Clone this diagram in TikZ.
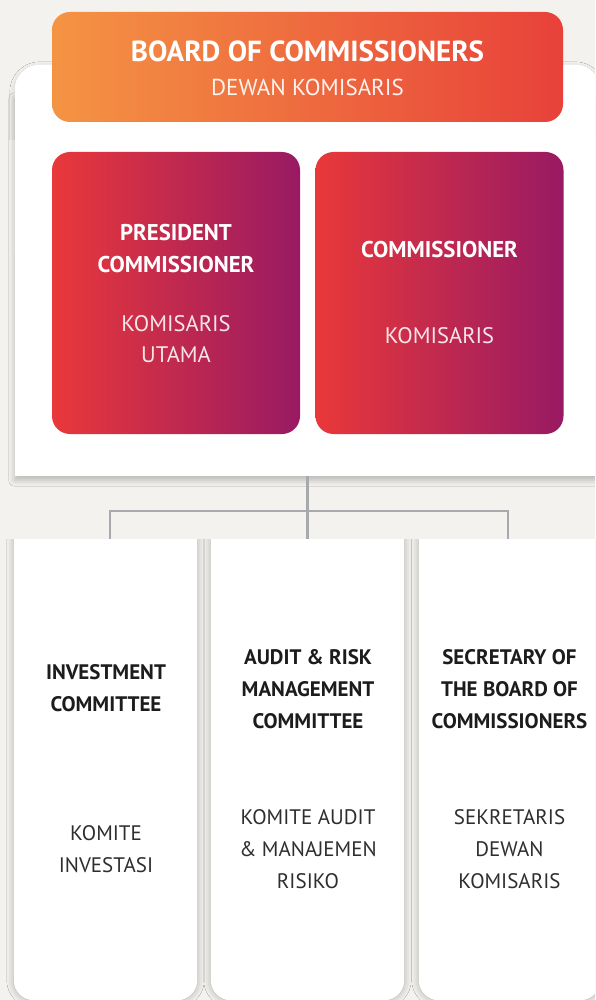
\documentclass[tikz,border=0pt]{standalone}
\usepackage{fontspec}
\setmainfont{PT Sans}
\usetikzlibrary{shadows.blur}
\definecolor{bgc}{HTML}{F3F2EE}
\definecolor{orA}{HTML}{F49443}
\definecolor{orB}{HTML}{E8413A}
\definecolor{pkA}{HTML}{E9383A}
\definecolor{pkB}{HTML}{981A63}
\definecolor{conc}{HTML}{A8A9AD}
\definecolor{darktxt}{HTML}{1C1C1C}
\definecolor{regtxt}{HTML}{2E2E2E}
\tikzset{
  area/.style={inner sep=0pt, draw=none},
  panelshadow/.style={fill=white,
    blur shadow={shadow xshift=0pt, shadow yshift=-4pt, shadow blur radius=6pt, shadow opacity=24}},
  paneltopshadow/.style={fill=white, rounded corners=25pt,
    blur shadow={shadow xshift=0pt, shadow yshift=-2pt, shadow blur radius=5pt, shadow opacity=18}},
  paneltop/.style={fill=white, rounded corners=25pt},
  topbox/.style={left color=orA, right color=orB, rounded corners=18pt, inner sep=0pt},
  pinkbox/.style={left color=pkA, right color=pkB, rounded corners=18pt, inner sep=0pt},
  comshape/.style={fill=white, rounded corners=20pt,
    blur shadow={shadow xshift=0pt, shadow yshift=0pt, shadow blur radius=7pt, shadow opacity=30}},
  conn/.style={draw=conc, line width=2.2pt},
  ttl/.style={text=white, font=\bfseries\fontsize{29}{34}\selectfont, inner sep=0pt, anchor=north},
  subttl/.style={text=white, text opacity=0.92, font=\fontsize{23}{28}\selectfont, inner sep=0pt, anchor=north},
  pkbold/.style={text=white, font=\bfseries\fontsize{22.8}{32}\selectfont, inner sep=0pt, anchor=north, align=center},
  pkreg/.style={text=white, text opacity=0.88, font=\fontsize{22.5}{31.5}\selectfont, inner sep=0pt, anchor=north, align=center},
  cbold/.style={text=darktxt, font=\bfseries\fontsize{21}{32}\selectfont, inner sep=0pt, anchor=north, align=center},
  creg/.style={text=regtxt, font=\fontsize{21}{32.3}\selectfont, inner sep=0pt, anchor=north, align=center},
}
\begin{document}
\begin{tikzpicture}[x=1pt,y=-1pt]
\useasboundingbox (0,0) rectangle (595,1000);
\clip (0,0) rectangle (595,1000);
\fill[bgc] (0,0) rectangle (595,1000);

% white panel (rounded top, square bottom)
\node[area, minimum width=585pt, minimum height=411pt] (panel) at (307.5,270.5) {};
\begin{scope}
  \clip (0,0) rectangle (600,140);
  \fill[paneltopshadow] (panel.north west) rectangle ([yshift=200pt]panel.south east);
\end{scope}
\fill[panelshadow] ([yshift=-30pt]panel.north west) rectangle (panel.south east);
\fill[paneltop] (panel.north west) rectangle ([yshift=200pt]panel.south east);

% board box
\node[topbox, minimum width=511pt, minimum height=110pt] (board) at (307.5,67) {};
\node[ttl] (boardt) at (307.5,40.5) {BOARD OF COMMISSIONERS};
\node[subttl] (boards) at (307.5,78.5) {DEWAN KOMISARIS};

% commissioner boxes
\node[pinkbox, minimum width=248pt, minimum height=282pt] (pres) at (176,293) {};
\node[pinkbox, minimum width=248pt, minimum height=282pt] (comm) at (439.5,293) {};
\node[pkbold] (prest) at (176,224) {PRESIDENT\\COMMISSIONER};
\node[pkreg] (press) at (176,315) {KOMISARIS\\UTAMA};
\node[pkbold] (commt) at (439.5,241.5) {COMMISSIONER};
\node[pkreg] (comms) at (439.5,327.5) {KOMISARIS};

% committee boxes (square top, rounded bottom)
\node[area, minimum width=183pt, minimum height=461pt] (inv) at (105.5,769.5) {};
\node[area, minimum width=193pt, minimum height=461pt] (aud) at (307.5,769.5) {};
\node[area, minimum width=181pt, minimum height=461pt] (sec) at (509.5,769.5) {};
\begin{scope}
  \clip (0,539) rectangle (600,1000);
  \fill[comshape] ([yshift=40pt]inv.north west) rectangle (inv.south east);
  \fill[comshape] ([yshift=40pt]aud.north west) rectangle (aud.south east);
  \fill[comshape] ([yshift=40pt]sec.north west) rectangle (sec.south east);
\end{scope}

\node[cbold] (invt) at (106,664) {INVESTMENT\\COMMITTEE};
\node[creg] (invs) at (106,825) {KOMITE\\INVESTASI};
\node[cbold] (audt) at (308,649) {AUDIT \& RISK\\MANAGEMENT\\COMMITTEE};
\node[creg] (auds) at (308,809) {KOMITE AUDIT\\\& MANAJEMEN\\RISIKO};
\node[cbold] (sect) at (509.5,649) {SECRETARY OF\\THE BOARD OF\\COMMISSIONERS};
\node[creg] (secs) at (509.5,809) {SEKRETARIS\\DEWAN\\KOMISARIS};

% connectors
\coordinate (hub) at (307.5,511);
\draw[conn] (panel.south) -- (aud.north);
\draw[conn] ([xshift=4.5pt]inv.north) |- (hub);
\draw[conn] ([xshift=-1.5pt]sec.north) |- (hub);
\end{tikzpicture}
\end{document}
